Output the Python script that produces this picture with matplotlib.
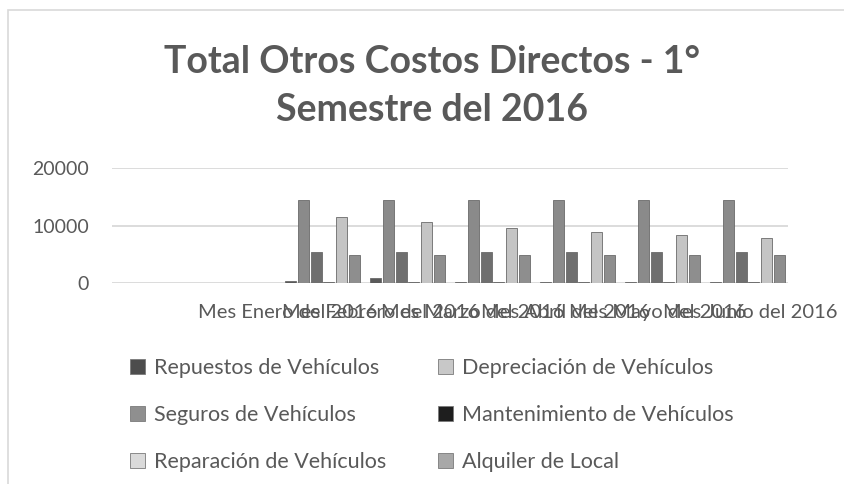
import matplotlib
matplotlib.use("Agg")
import matplotlib.pyplot as plt
from matplotlib.patches import Patch, Rectangle
import numpy as np

plt.rcParams['font.family'] = ['Lato', 'DejaVu Sans']

months = ["Mes Enero del 2016", "Mes Febrero del 2016", "Mes Marzo del 2016",
          "Mes Abril del 2016", "Mes Mayo del 2016", "Mes Junio del 2016"]
series_names = ["Repuestos de Vehículos", "Depreciación de Vehículos",
                "Seguros de Vehículos", "Mantenimiento de Vehículos",
                "Reparación de Vehículos", "Alquiler de Local"]
repuestos = [350, 900, 200, 150, 150, 150]
depreciacion = [14500, 14500, 14500, 14500, 14500, 14500]
seguros = [5400, 5400, 5400, 5400, 5400, 5400]
mantenimiento = [200, 200, 200, 250, 250, 250]
reparacion = [11600, 10600, 9700, 8900, 8400, 7900]
alquiler = [4950, 4950, 4950, 4950, 4950, 4950]
values = [repuestos, depreciacion, seguros, mantenimiento, reparacion, alquiler]

bar_colors = ["#5a5a5a", "#8a8a8a", "#6f6f6f", "#454545", "#c4c4c4", "#8e8e8e"]
legend_colors = ["#4d4d4d", "#c8c8c8", "#8f8f8f", "#1e1e1e", "#dadada", "#a8a8a8"]
text_color = "#595959"
grid_color = "#d9d9d9"

W, H = 845, 484
fig = plt.figure(figsize=(W / 100, H / 100), dpi=100)

# outer chart border
fig.patches.append(Rectangle((8 / W, -0.05), 1.1, 1 - 10 / H + 0.05,
                             transform=fig.transFigure, fill=False,
                             edgecolor=grid_color, linewidth=1.2))

ax_l, ax_r, ax_t, ax_b = 112, 788, 168.3, 283.3
ax = fig.add_axes([ax_l / W, 1 - ax_b / H, (ax_r - ax_l) / W, (ax_b - ax_t) / H])

x = np.arange(len(months))
step = 0.15
width = 0.13
for j, (vals, c) in enumerate(zip(values, bar_colors)):
    ax.bar(x + (j - 2.5) * step, vals, width=width, color=c,
           edgecolor="#6a6a6a", linewidth=0.6, zorder=3)

ax.set_xlim(-2.476, 5.476)
ax.set_ylim(0, 20000)
ax.set_yticks([0, 10000, 20000])
ax.set_yticklabels(["0", "10000", "20000"])
ax.yaxis.grid(True, color=grid_color, linewidth=1.3, zorder=0)
ax.set_xticks([])
for s in ax.spines.values():
    s.set_visible(False)
ax.tick_params(axis='y', length=0, pad=16.5, labelsize=14, labelcolor=text_color)

# category labels (offset scale, as in the original perspective chart)
ax2 = ax.twiny()
ax2.xaxis.set_ticks_position('bottom')
ax2.set_xlim(-1.905, 5.41)
ax2.set_xticks(x)
ax2.set_xticklabels(months)
ax2.tick_params(axis='x', length=0, pad=15, labelsize=14.5, labelcolor=text_color)
for s in ax2.spines.values():
    s.set_visible(False)

fig.text(432 / W, 1 - 62 / H, "Total Otros Costos Directos - 1°", ha='center', va='center',
         fontsize=27, fontweight='bold', color=text_color)
fig.text(432 / W, 1 - 110 / H, "Semestre del 2016", ha='center', va='center',
         fontsize=27, fontweight='bold', color=text_color)

order = [0, 2, 4, 1, 3, 5]
handles = [Patch(facecolor=legend_colors[i], edgecolor="#7a7a7a", linewidth=0.6) for i in order]
labels = [series_names[i] for i in order]
fig.legend(handles, labels, ncol=2, loc='upper left',
           bbox_to_anchor=(111 / W, 1 - 339 / H), frameon=False,
           fontsize=15.5, labelcolor=text_color, handlelength=0.7, handleheight=0.7,
           handletextpad=0.4, columnspacing=2.4, labelspacing=1.25)

fig.savefig("out.png", dpi=100)
